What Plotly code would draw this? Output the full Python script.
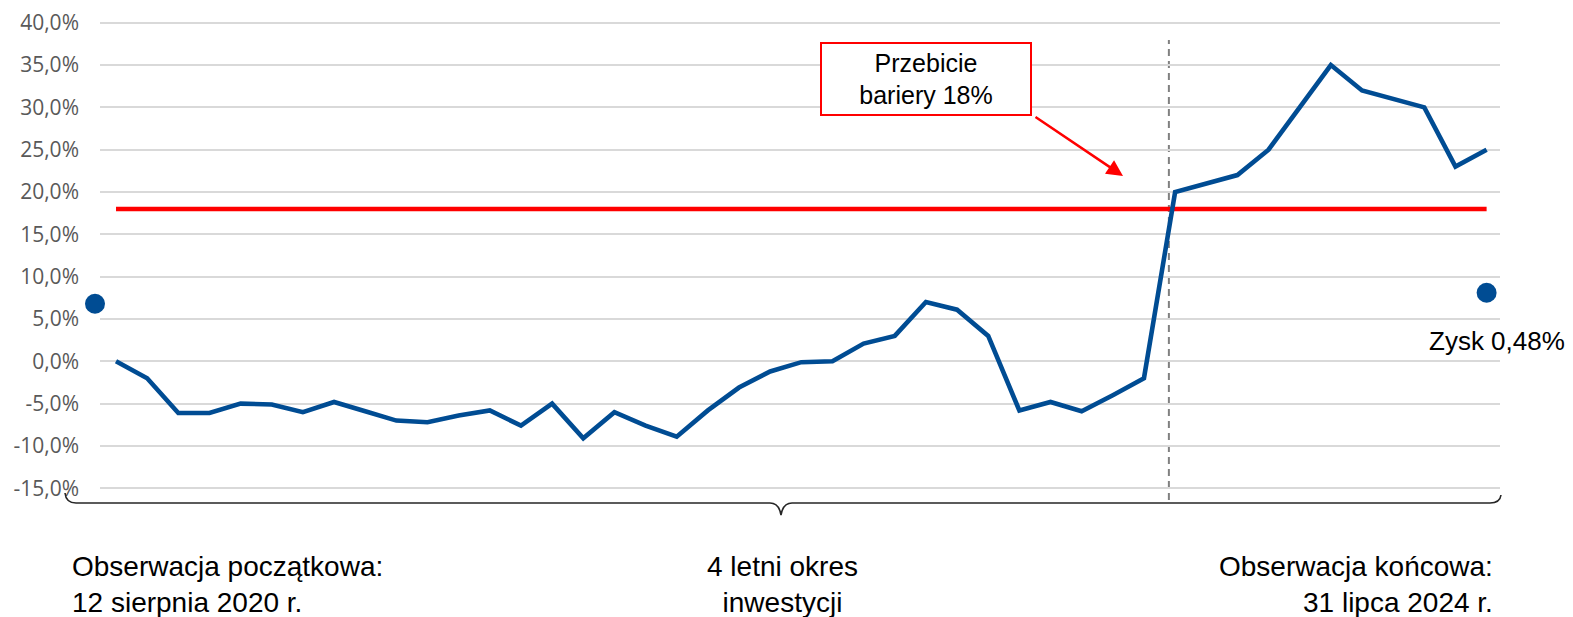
import plotly.graph_objects as go

# ---- data ----
values = [0.0, -2.0, -6.1, -6.1, -5.0, -5.1, -6.0, -4.8, -5.9, -7.0,
          -7.2, -6.4, -5.8, -7.6, -5.0, -9.1, -6.0, -7.6, -8.9, -5.8,
          -3.1, -1.2, -0.1, 0.0, 2.1, 3.0, 7.0, 6.1, 3.0, -5.8,
          -4.8, -5.9, -4.0, -2.0, 20.0, 21.0, 22.0, 25.0, 30.0, 35.0,
          32.0, 31.0, 30.0, 23.0, 25.0]
obs_index = list(range(len(values)))
barrier = 18.0
start_dot_value = 6.8
end_dot_value = 8.1
breach_index = 33.8
y_ticks = [-15, -10, -5, 0, 5, 10, 15, 20, 25, 30, 35, 40]
y_tick_labels = [f"{v:.1f}%".replace(".", ",") for v in y_ticks]
label_start = "Obserwacja początkowa:<br>12 sierpnia 2020 r."
label_mid = "4 letni okres<br>inwestycji"
label_end = "Obserwacja końcowa:<br>31 lipca 2024 r."
label_gain = "Zysk 0,48%"
label_barrier = "Przebicie<br>bariery 18%"

BLUE = "#004C93"
RED = "#FF0000"

W, H = 1573, 617
L, Rpx, T, Bpx = 100, 1500, 21, 490
YR = [-15.2, 40.2]


def px(x):
    return (x - L) / (Rpx - L)


def py(y):
    return (Bpx - y) / (Bpx - T)


def yval_paper(v):
    return (v - YR[0]) / (YR[1] - YR[0])


fig = go.Figure()

# barrier line
fig.add_trace(go.Scatter(x=[obs_index[0], obs_index[-1]], y=[barrier, barrier],
                         mode="lines", line=dict(color=RED, width=4.5),
                         hoverinfo="skip", showlegend=False))
# main series
fig.add_trace(go.Scatter(x=obs_index, y=values, mode="lines",
                         line=dict(color=BLUE, width=4.6),
                         showlegend=False))
# end dot
fig.add_trace(go.Scatter(x=[obs_index[-1]], y=[end_dot_value],
                         mode="markers", marker=dict(color=BLUE, size=20),
                         cliponaxis=False, showlegend=False))
# start dot (sits just left of the plot area)
fig.add_shape(type="circle", xref="paper", yref="paper",
              xsizemode="pixel", ysizemode="pixel",
              xanchor=px(95), yanchor=yval_paper(start_dot_value),
              x0=-10, x1=10, y0=-10, y1=10,
              fillcolor=BLUE, line=dict(width=0))

# vertical dashed line at breach
fig.add_shape(type="line", xref="x", yref="paper", x0=breach_index, x1=breach_index,
              y0=py(500), y1=py(40), line=dict(color="#808080", width=2, dash="7px,5px"),
              layer="below")

# brace
pts = lambda x, y: f"{px(x):.5f},{py(y):.5f}"
brace = (f"M {pts(65,493)} Q {pts(66,503)} {pts(76,503)} L {pts(770,503)} "
         f"Q {pts(779,503)} {pts(781,515)} Q {pts(783,503)} {pts(792,503)} "
         f"L {pts(1490,503)} Q {pts(1500,503)} {pts(1501,495)}")
fig.add_shape(type="path", xref="paper", yref="paper", path=brace,
              line=dict(color="#262626", width=1.6))

TXT = "Liberation Sans, Arial, sans-serif"

fig.add_annotation(x=px(70), y=py(549), xref="paper", yref="paper", text=label_start,
                   xanchor="left", yanchor="top", align="left", showarrow=False,
                   font=dict(family=TXT, size=28, color="#000000"))
fig.add_annotation(x=px(782), y=py(549), xref="paper", yref="paper", text=label_mid,
                   xanchor="center", yanchor="top", align="center", showarrow=False,
                   font=dict(family=TXT, size=28, color="#000000"))
fig.add_annotation(x=px(1495), y=py(549), xref="paper", yref="paper", text=label_end,
                   xanchor="right", yanchor="top", align="right", showarrow=False,
                   font=dict(family=TXT, size=28, color="#000000"))
fig.add_annotation(x=px(1567), y=py(341), xref="paper", yref="paper", text=label_gain,
                   xanchor="right", yanchor="middle", align="right", showarrow=False,
                   font=dict(family=TXT, size=26, color="#000000"))
# barrier box
fig.add_annotation(x=px(926), y=py(79), xref="paper", yref="paper", text=label_barrier,
                   xanchor="center", yanchor="middle", align="center", showarrow=False,
                   width=208, height=70, borderpad=0, borderwidth=2,
                   bordercolor=RED, bgcolor="#FFFFFF",
                   font=dict(family=TXT, size=25, color="#000000"))
# arrow
fig.add_annotation(x=px(1123), y=py(176), xref="paper", yref="paper", text="",
                   showarrow=True, ax=-89, ay=-60, arrowhead=2, arrowsize=1.3,
                   arrowwidth=2.5, arrowcolor=RED, standoff=0, startstandoff=0)

fig.update_layout(
    width=W, height=H,
    margin=dict(l=L, r=W - Rpx, t=T, b=H - Bpx, autoexpand=False),
    paper_bgcolor="#FFFFFF", plot_bgcolor="#FFFFFF",
    showlegend=False,
    xaxis=dict(range=[-0.514, 44.43], showgrid=False, zeroline=False,
               showticklabels=False, showline=False, fixedrange=True,
               automargin=False),
    yaxis=dict(range=YR, tickvals=y_ticks, ticktext=y_tick_labels,
               showgrid=True, gridcolor="#D9D9D9", gridwidth=1.5,
               zeroline=False, showline=False, ticklabelstandoff=20,
               automargin=False,
               tickfont=dict(family="Open Sans, sans-serif", size=21, color="#595959")),
)

fig.write_html("out.html", config={"displayModeBar": False},
               post_script="document.body.style.margin='0';")
